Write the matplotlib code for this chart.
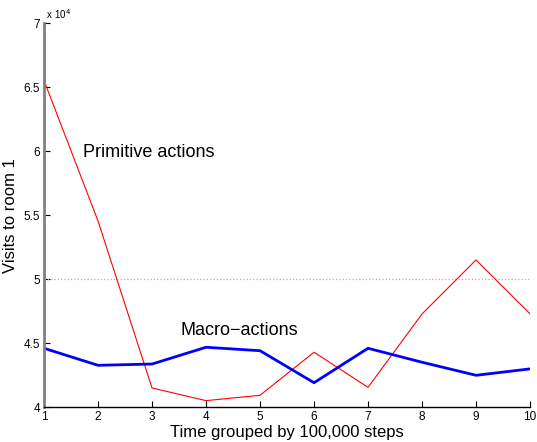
import matplotlib
matplotlib.use("Agg")
import matplotlib.pyplot as plt
from matplotlib.ticker import FuncFormatter

plt.rcParams['font.family'] = ['Liberation Sans', 'DejaVu Sans']

# visits to room 1, one value per block of 100,000 steps
steps = [1, 2, 3, 4, 5, 6, 7, 8, 9, 10]
primitive = [65520, 54550, 41510, 40520, 40940, 44300, 41560, 47290, 51510, 47300]
macro = [44610, 43280, 43380, 44690, 44420, 41920, 44610, 43520, 42500, 43000]
reference_level = 50000

fig = plt.figure(figsize=(5.37, 4.42), dpi=100)
ax = fig.add_axes([0.082, 0.0785, 0.905, 0.869])

ax.axhline(reference_level, color=(1.0, 0.55, 0.55), linestyle=':', linewidth=0.9)
ax.plot(steps, primitive, color='red', linewidth=0.8)
ax.plot(steps, macro, color='blue', linewidth=2.0)

ax.text(1.72, 59900, 'Primitive actions', fontsize=13, va='center')
ax.text(3.52, 46000, 'Macro\u2212actions', fontsize=13, va='center')

ax.set_xlim(1, 10)
ax.set_ylim(40000, 70000)
ax.set_xticks(steps)
ax.set_yticks([40000, 45000, 50000, 55000, 60000, 65000, 70000])
ax.yaxis.set_major_formatter(FuncFormatter(lambda v, p: '%g' % (v / 1e4)))
ax.tick_params(direction='in', labelsize=8.5, length=4, pad=3)

for side in ['top', 'right']:
    ax.spines[side].set_visible(False)
ax.spines['left'].set_color('gray')
ax.spines['left'].set_linewidth(2.0)
ax.spines['bottom'].set_linewidth(1.0)

ax.text(0.0, 1.005, ' x 10$^4$', transform=ax.transAxes, fontsize=7, va='bottom', ha='left')

ax.set_xlabel('Time grouped by 100,000 steps', fontsize=12, labelpad=1)
ax.set_ylabel('Visits to room 1', fontsize=12, labelpad=4)

fig.savefig('out.png', dpi=100)
